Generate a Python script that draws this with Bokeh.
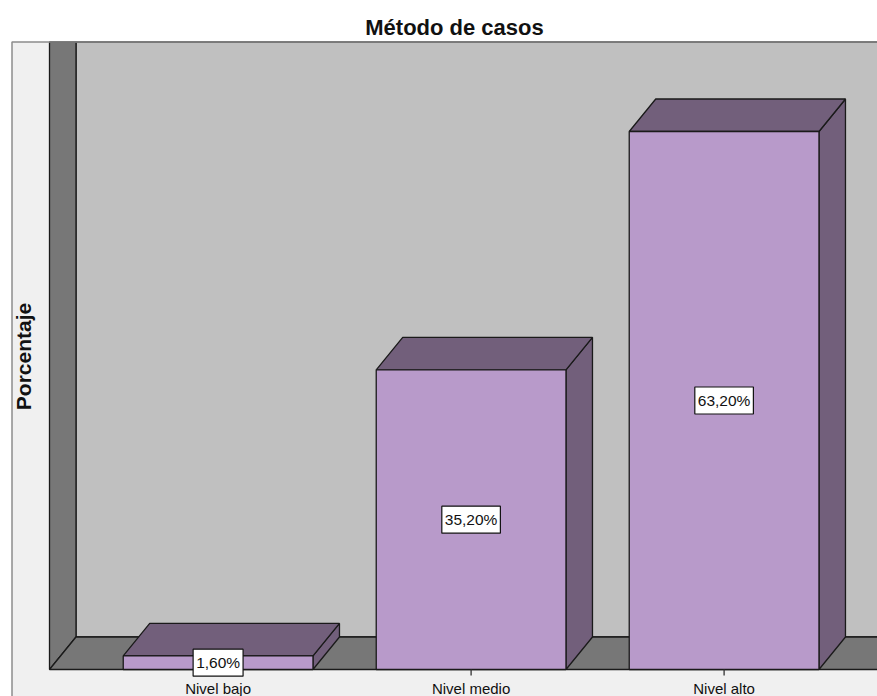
import math
from bokeh.plotting import figure
from bokeh.models import Range1d, Label, ColumnDataSource
from bokeh.core.properties import value
from bokeh.embed import file_html
from bokeh.resources import INLINE

# ---------------- data ----------------
title_text = "Método de casos"
y_label_text = "Porcentaje"
categories = ["Nivel bajo", "Nivel medio", "Nivel alto"]
percentages = [1.6, 35.2, 63.2]

# ---------------- layout (pixels) ----------------
W, H = 877, 696
PX_CAT = 253.0          # pixels per category step
PX_PCT = 8.5127         # pixels per percent point
X0_PX = 217.6           # figure x of first category centre
Y0_PX = 669             # figure y (from top) of 0 %
DEPTH_X = 26.5 / PX_CAT
DEPTH_Y = 32.5 / PX_PCT
BAR_W = 0.75

x_start = -X0_PX / PX_CAT
x_end = (W - X0_PX) / PX_CAT
y_end = Y0_PX / PX_PCT
y_start = -(H - Y0_PX) / PX_PCT

XL = (49 - X0_PX) / PX_CAT        # front edge of left wall
XO = (11.5 - X0_PX) / PX_CAT      # outer panel left edge
XR = x_end + 0.2                  # beyond right edge
YT = (Y0_PX - 41.5) / PX_PCT      # clip top of chart area
YB = y_start - 1

FRONT = "#b89aca"
DARK = "#725f7b"
WALL = "#777777"
BACK = "#c0c0c0"
PANEL = "#f0f0f0"
EDGE = "#1a1a1a"

p = figure(width=W, height=H, x_range=Range1d(x_start, x_end),
           y_range=Range1d(y_start, y_end), output_backend="svg",
           toolbar_location=None, min_border=0, x_axis_type=None,
           y_axis_type=None, outline_line_color=None,
           background_fill_color="white", border_fill_color="white")
p.grid.visible = False
p.styles = {"margin-right": "-16px", "margin-bottom": "-16px"}

# outer panel
p.quad(left=[XO], right=[XR], bottom=[YB], top=[YT], fill_color=PANEL,
       line_color=None)
# back wall
p.quad(left=[XL + DEPTH_X], right=[XR], bottom=[DEPTH_Y], top=[YT],
       fill_color=BACK, line_color=EDGE, line_width=1.3)
# left wall
p.patch([XL, XL, XL + DEPTH_X, XL + DEPTH_X], [0, YT, YT, DEPTH_Y],
        fill_color=WALL, line_color=EDGE, line_width=1.3)
# floor
p.patch([XL, XL + DEPTH_X, XR, XR], [0, DEPTH_Y, DEPTH_Y, 0],
        fill_color=WALL, line_color=EDGE, line_width=1.3)

# bars
idx = list(range(len(categories)))
lefts = [i - BAR_W / 2 for i in idx]
rights = [i + BAR_W / 2 for i in idx]
for l, r, v in zip(lefts, rights, percentages):
    # side face
    p.patch([r, r, r + DEPTH_X, r + DEPTH_X], [0, v, v + DEPTH_Y, DEPTH_Y],
            fill_color=DARK, line_color=EDGE, line_width=1.3)
    # top face
    p.patch([l, l + DEPTH_X, r + DEPTH_X, r], [v, v + DEPTH_Y, v + DEPTH_Y, v],
            fill_color=DARK, line_color=EDGE, line_width=1.3)
p.quad(left=lefts, right=rights, bottom=[0] * len(idx), top=percentages,
       fill_color=FRONT, line_color=EDGE, line_width=1.3)

# frame border of outer panel
p.line([XO, XO, XR], [YB, YT, YT], line_color="#8c8c8c", line_width=1.5)

# ticks
TICK = 6 / PX_PCT
p.segment(x0=idx, y0=[0] * len(idx), x1=idx, y1=[-TICK] * len(idx),
          line_color="#333333", line_width=1.3)

# category labels
cat_src = ColumnDataSource(dict(x=idx, y=[(Y0_PX - 688) / PX_PCT] * len(idx),
                                t=categories))
p.text(x="x", y="y", text="t", source=cat_src, text_align="center",
       text_baseline="alphabetic", text_font=value("Liberation Sans"),
       text_font_size="15px", text_color="#111111")

# value labels
for i, v in zip(idx, percentages):
    p.add_layout(Label(x=i, y=v / 2,
                       text=f"{v:.2f}".replace(".", ",") + "%",
                       text_align="center", text_baseline="middle",
                       text_font="Liberation Sans", text_font_size="15.5px",
                       text_color="#111111", background_fill_color="white",
                       border_line_color="#111111", border_line_width=1.2,
                       padding=(3, 5)))

# title
p.add_layout(Label(x=454, y=H - 27, x_units="screen", y_units="screen",
                   text=title_text, text_align="center",
                   text_baseline="alphabetic", text_font="Liberation Sans",
                   text_font_style="bold", text_font_size="22px",
                   text_color="#111111"))
# y axis title
p.add_layout(Label(x=23, y=H - 356, x_units="screen", y_units="screen",
                   text=y_label_text, angle=math.pi / 2, text_align="center",
                   text_baseline="middle", text_font="Liberation Sans",
                   text_font_style="bold", text_font_size="21px",
                   text_color="#111111"))

open("out.html", "w").write(file_html(p, INLINE))
